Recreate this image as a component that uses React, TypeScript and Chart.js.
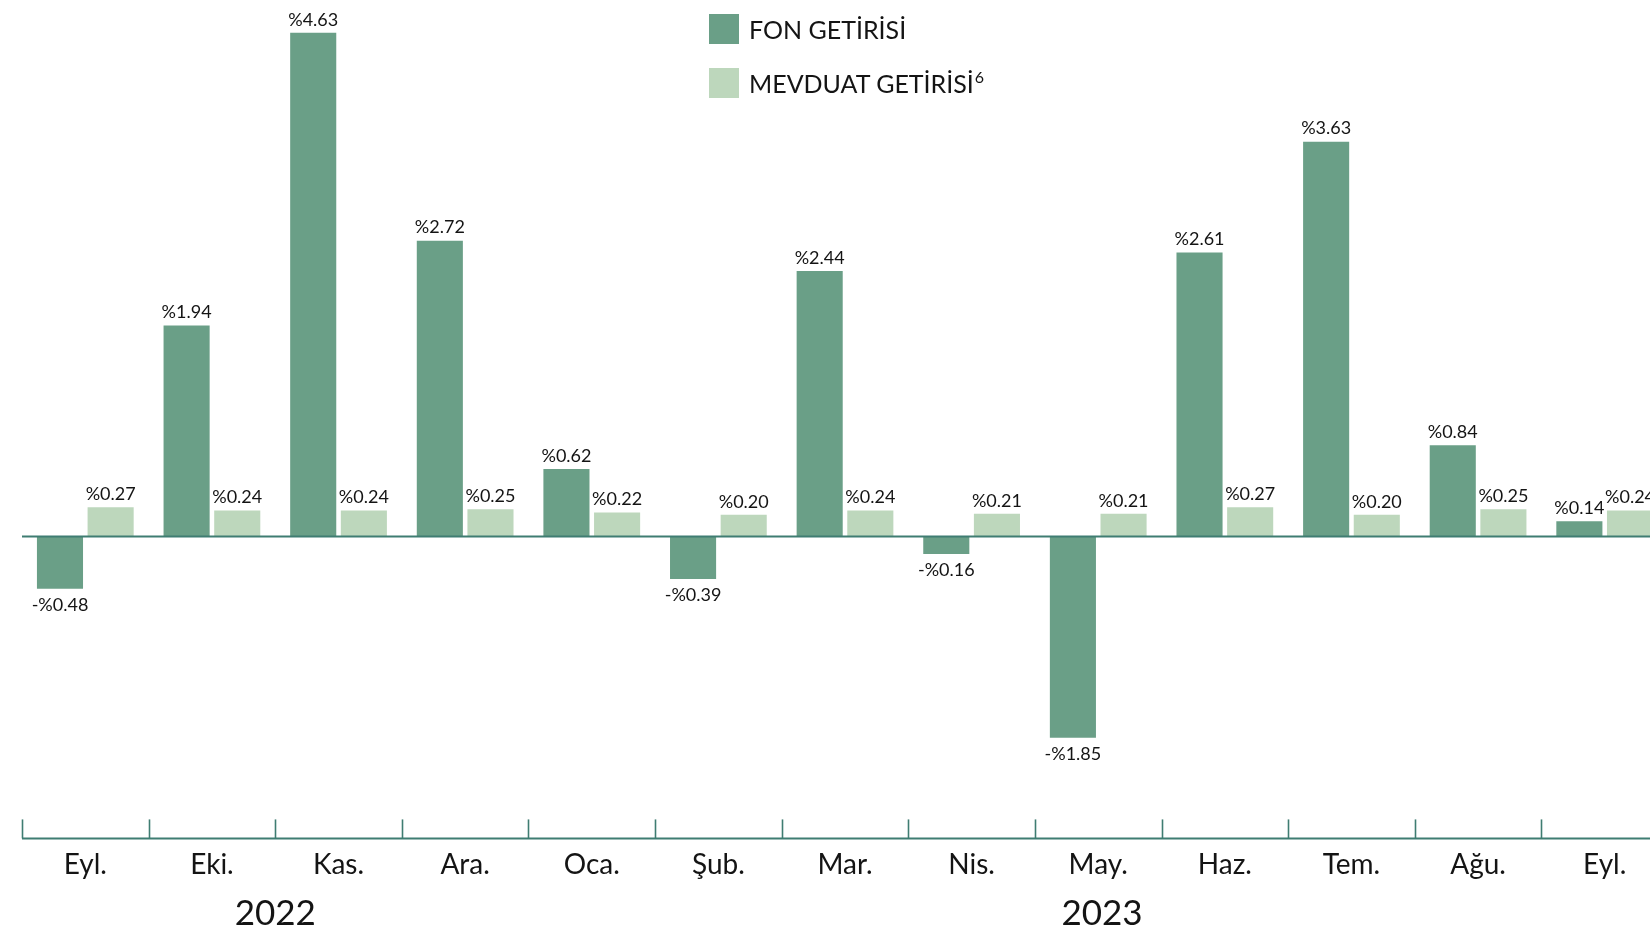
import React, { useEffect, useRef } from 'react';
import { Chart, registerables } from 'chart.js';

Chart.register(...registerables);

const months = ['Eyl.', 'Eki.', 'Kas.', 'Ara.', 'Oca.', 'Şub.', 'Mar.', 'Nis.', 'May.', 'Haz.', 'Tem.', 'Ağu.', 'Eyl.'];
const fonReturns = [-0.48, 1.94, 4.63, 2.72, 0.62, -0.39, 2.44, -0.16, -1.85, 2.61, 3.63, 0.84, 0.14];
const depositReturns = [0.27, 0.24, 0.24, 0.25, 0.22, 0.2, 0.24, 0.21, 0.21, 0.27, 0.2, 0.25, 0.24];
const yearLabels = ['2022', '2023'];
const yearPositions = [1.5, 8.03];
const seriesNames = ['FON GETİRİSİ', 'MEVDUAT GETİRİSİ'];

const FONT = 'Lato, "Noto Sans", sans-serif';
const FON_COLOR = '#6a9f87';
const DEP_COLOR = '#bdd7bc';
const AXIS_COLOR = '#3f7d72';
const TEXT_COLOR = '#141414';

const fmt = (v: number) => (v < 0 ? '-%' : '%') + Math.abs(v).toFixed(2);

const decorPlugin = {
  id: 'decor',
  afterDatasetsDraw(chart: any) {
    const { ctx, chartArea, scales } = chart;
    const x = scales.x;
    const y = scales.y;
    ctx.save();
    ctx.strokeStyle = AXIS_COLOR;
    ctx.lineWidth = 2;
    // zero line
    const y0 = y.getPixelForValue(0);
    ctx.beginPath();
    ctx.moveTo(chartArea.left, y0);
    ctx.lineTo(chartArea.right, y0);
    ctx.stroke();
    // bottom axis line
    const yb = chartArea.bottom - 1;
    ctx.beginPath();
    ctx.moveTo(chartArea.left, yb);
    ctx.lineTo(chartArea.right, yb);
    ctx.stroke();
    // tick marks at category boundaries
    ctx.lineWidth = 1.6;
    for (let i = 0; i <= months.length; i++) {
      const px = Math.round(x.getPixelForValue(i - 0.5)) + 0.5;
      ctx.beginPath();
      ctx.moveTo(px, yb - 19);
      ctx.lineTo(px, yb);
      ctx.stroke();
    }
    // data labels
    ctx.fillStyle = TEXT_COLOR;
    ctx.font = '18px ' + FONT;
    ctx.textAlign = 'center';
    chart.data.datasets.forEach((ds: any, di: number) => {
      const meta = chart.getDatasetMeta(di);
      meta.data.forEach((bar: any, i: number) => {
        const v = ds.data[i] as number;
        if (v >= 0) {
          ctx.textBaseline = 'bottom';
          ctx.fillText(fmt(v), bar.x, bar.y - 4);
        } else {
          ctx.textBaseline = 'top';
          ctx.fillText(fmt(v), bar.x, bar.y + 7);
        }
      });
    });
    // year labels
    ctx.font = '35px ' + FONT;
    ctx.textBaseline = 'middle';
    yearLabels.forEach((lbl, i) => {
      ctx.fillText(lbl, x.getPixelForValue(yearPositions[i]), chartArea.bottom + 74);
    });
    ctx.restore();
  },
};

export default function App() {
  const ref = useRef<HTMLCanvasElement | null>(null);
  useEffect(() => {
    document.body.style.margin = '0';
    const chart = new Chart(ref.current as HTMLCanvasElement, {
      type: 'bar',
      data: {
        labels: months,
        datasets: [
          { label: seriesNames[0], data: fonReturns, backgroundColor: FON_COLOR, borderWidth: 0 },
          { label: seriesNames[1], data: depositReturns, backgroundColor: DEP_COLOR, borderWidth: 0 },
        ],
      },
      options: {
        responsive: false,
        animation: false,
        layout: { padding: { left: 22, right: 12, top: 0, bottom: 41 } },
        plugins: { legend: { display: false }, tooltip: { enabled: false } },
        datasets: { bar: { categoryPercentage: 0.8, barPercentage: 0.91 } },
        scales: {
          x: {
            grid: { display: false, drawTicks: false },
            border: { display: false },
            ticks: { font: { family: FONT, size: 28 }, color: TEXT_COLOR, padding: 9, maxRotation: 0, autoSkip: false },
          },
          y: { display: false, min: -2.784, max: 4.932 },
        },
      },
      plugins: [decorPlugin],
    });
    return () => chart.destroy();
  }, []);

  const legendRow = (top: number, color: string, text: string, sup?: string) => (
    <div style={{ position: 'absolute', left: 709, top, height: 30, display: 'flex', alignItems: 'center' }}>
      <div style={{ width: 30, height: 30, background: color }} />
      <div style={{ marginLeft: 10, fontFamily: FONT, fontSize: 25, color: TEXT_COLOR, lineHeight: '30px', whiteSpace: 'nowrap' }}>
        {text}
        {sup ? <sup style={{ fontSize: 16, verticalAlign: 'top', lineHeight: '18px', marginLeft: 1 }}>{sup}</sup> : null}
      </div>
    </div>
  );

  return (
    <div style={{ position: 'fixed', left: 0, top: 0, width: 1650, height: 932, overflow: 'hidden', background: '#fff' }}>
      <canvas ref={ref} width={1680} height={932} style={{ position: 'absolute', left: 0, top: 0 }} />
      {legendRow(14, FON_COLOR, seriesNames[0])}
      {legendRow(68, DEP_COLOR, seriesNames[1], '6')}
    </div>
  );
}
